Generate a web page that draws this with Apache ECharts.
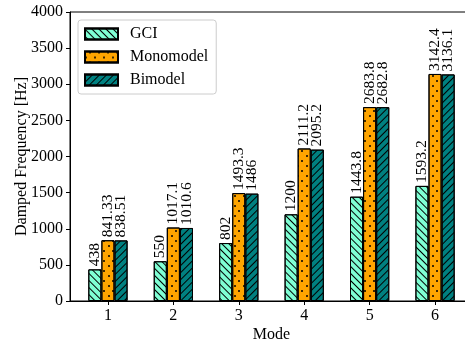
<!DOCTYPE html>
<html>
<head>
<meta charset="utf-8">
<script src="https://cdn.jsdelivr.net/npm/echarts@6/dist/echarts.min.js"></script>
<style>
  html, body { margin: 0; padding: 0; background: #fff; }
  #chart { width: 465px; height: 344px; }
</style>
</head>
<body>
<div id="chart"></div>
<script>
// Damped frequency per mode for the three models
const modes = [1, 2, 3, 4, 5, 6];
const gci = [438, 550, 802, 1200, 1443.8, 1593.2];
const monomodel = [841.33, 1017.1, 1493.3, 2111.2, 2683.8, 3142.4];
const bimodel = [838.51, 1010.6, 1486, 2095.2, 2682.8, 3136.1];
const yTicks = [0, 500, 1000, 1500, 2000, 2500, 3000, 3500, 4000];

const FONT = '"Liberation Serif", "DejaVu Serif", serif';

const hatchBack = {
  symbol: 'rect', color: '#000',
  dashArrayX: [1, 0], dashArrayY: [1, 3.6], rotation: Math.PI / 4
};
const hatchFwd = {
  symbol: 'rect', color: '#000',
  dashArrayX: [1, 0], dashArrayY: [1, 3.6], rotation: -Math.PI / 4
};
const dots = {
  symbol: 'circle', color: '#000', symbolSize: 1,
  dashArrayX: [[1.8, 6.2], [0, 4, 1.8, 2.2]], dashArrayY: [1.8, 2.2], rotation: 0
};

function barSeries(name, values, color, decal) {
  return {
    name: name,
    type: 'bar',
    barWidth: '20%',
    barGap: '0%',
    data: values.map((v, i) => [modes[i], v]),
    itemStyle: { color: color, borderColor: '#000', borderWidth: 1, decal: decal },
    label: {
      show: true, position: 'top', rotate: 90, distance: 3,
      align: 'left', verticalAlign: 'middle',
      fontFamily: FONT, fontSize: 15.5, color: '#000',
      formatter: p => String(p.value[1])
    }
  };
}

const chart = echarts.init(document.getElementById('chart'), null, { renderer: 'canvas' });
chart.setOption({
  animation: false,
  aria: { enabled: true, decal: { show: true }, label: { enabled: false } },
  grid: {
    left: 70, right: -8, top: 12, bottom: 43,
    outerBoundsMode: 'none', containLabel: false,
    show: true, borderColor: '#000', borderWidth: 1, backgroundColor: 'transparent'
  },
  legend: {
    orient: 'vertical', left: 78, top: 20,
    icon: 'rect', itemWidth: 33, itemHeight: 11, itemGap: 7,
    padding: [6, 8, 6, 6],
    backgroundColor: 'rgba(255,255,255,0.85)', borderColor: '#cccccc', borderWidth: 1, borderRadius: 3,
    textStyle: { fontFamily: FONT, fontSize: 16, color: '#000', padding: [0, 0, 0, 7] },
    data: ['GCI', 'Monomodel', 'Bimodel']
  },
  xAxis: {
    type: 'value', min: 0.42, max: 6.58,
    name: 'Mode', nameLocation: 'middle', nameGap: 26, nameMoveOverlap: false,
    nameTextStyle: { fontFamily: FONT, fontSize: 16, color: '#000' },
    axisLine: { show: true, onZero: false, lineStyle: { color: '#000', width: 1 } },
    axisTick: { show: true, length: 4, customValues: modes, lineStyle: { color: '#000' } },
    axisLabel: { customValues: modes, margin: 7, fontFamily: FONT, fontSize: 16, color: '#000' },
    splitLine: { show: false }
  },
  yAxis: {
    type: 'value', min: 0, max: 4000, interval: 500,
    name: 'Damped Frequency [Hz]', nameLocation: 'middle', nameGap: 40, nameMoveOverlap: false,
    nameTextStyle: { fontFamily: FONT, fontSize: 16, color: '#000' },
    axisLine: { show: true, lineStyle: { color: '#000', width: 1 } },
    axisTick: { show: true, length: 4, lineStyle: { color: '#000' } },
    axisLabel: {
      margin: 7, fontFamily: FONT, fontSize: 16, color: '#000',
      formatter: v => (yTicks.indexOf(v) >= 0 ? String(v) : '')
    },
    splitLine: { show: false }
  },
  series: [
    barSeries('GCI', gci, '#7FFFD4', hatchBack),
    barSeries('Monomodel', monomodel, '#FFA500', dots),
    barSeries('Bimodel', bimodel, '#008080', hatchFwd)
  ]
});
</script>
</body>
</html>
